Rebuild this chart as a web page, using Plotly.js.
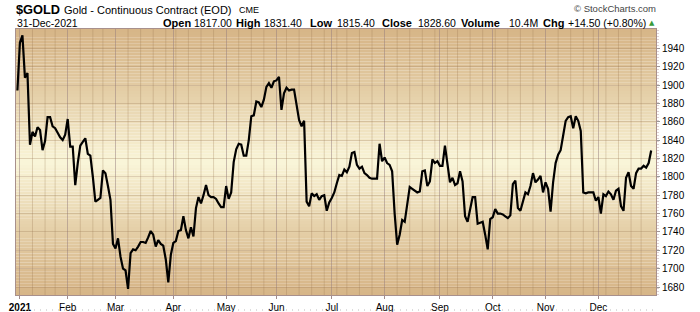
<!DOCTYPE html>
<html>
<head>
<meta charset="utf-8">
<script src="https://cdn.plot.ly/plotly-3.0.1.min.js"></script>
<style>html,body{margin:0;padding:0;background:#fff;}#chart{width:700px;height:312px;}</style>
</head>
<body>
<div id="chart"></div>
<script>
// ---- data ----
const holidays = ["2021-01-01","2021-01-18","2021-02-15","2021-04-02","2021-05-31","2021-07-05","2021-09-06","2021-11-25","2021-12-24"];
const monthLabels = ["<b>2021</b>","Feb","Mar","Apr","May","Jun","Jul","Aug","Sep","Oct","Nov","Dec"];
const priceTicks = [1680,1700,1720,1740,1760,1780,1800,1820,1840,1860,1880,1900,1920,1940];
const statLabels = ["Open","High","Low","Close","Volume","Chg"];
const statValues = ["1817.00","1831.40","1815.40","1828.60","10.4M","+14.50 (+0.80%)"];
const closes = [
1894,1946,1954,1908,1913,1835,1849,1844,1854,1851,1829,1839,1865,1865,1855,1853,1848,1843,1840,1846,
1863,1833,1833,1791,1815,1834,1838,1842,1825,1823,1800,1773,1775,1777,1807,1804,1790,1775,1727,
1722,1733,1713,1700,1698,1678,1717,1721,1720,1724,1729,1729,1728,1734,1741,1737,1724,1731,1727,1725,1710,1685,1715,
1728,1730,1741,1742,1757,1742,1733,1745,1735,1766,1778,1771,1780,1791,1780,1778,1778,1776,1771,1767,1767,
1790,1776,1783,1816,1830,1836,1835,1823,1823,1840,1866,1867,1882,1881,1876,1884,1898,1902,1897,1904,
1905,1909,1873,1891,1897,1894,1895,1895,1878,1862,1855,1861,1773,1768,1782,1779,1781,1775,1779,1780,1763,1772,
1777,1783,1793,1802,1801,1808,1805,1811,1826,1827,1813,1809,1811,1804,1802,1799,1798,1798,1798,1836,1817,
1821,1815,1813,1806,1760,1726,1737,1753,1751,1773,1789,1787,1785,1783,1784,1806,1807,1790,1795,1819,1815,1817,
1812,1812,1834,1816,1794,1799,1791,1793,1806,1795,1757,1751,1765,1778,1778,1749,1750,1751,1737,1721,1754,
1756,1765,1760,1760,1759,1757,1755,1758,1792,1796,1766,1763,1772,1783,1781,1790,1804,1794,1797,1801,1783,
1794,1787,1762,1794,1815,1824,1829,1845,1861,1865,1866,1853,1866,1861,1850,1783,1782,1783,1783,1783,1774,
1778,1760,1781,1779,1784,1781,1775,1785,1787,1768,1763,1799,1805,1790,1787,1804,1809,1809,1812,1810,1815,1828.6
];

// trading dates: weekdays from 2020-12-31 to 2021-12-31, minus exchange holidays
const dates = [];
for (let t = Date.UTC(2020,11,31); t <= Date.UTC(2021,11,31); t += 86400000) {
  const d = new Date(t), wd = d.getUTCDay();
  const s = d.toISOString().slice(0,10);
  if (wd !== 0 && wd !== 6 && holidays.indexOf(s) < 0) dates.push(s);
}
const idx = dates.map((d,i)=>i);

// month starts (first trading day of each month of 2021) and week starts
const monthIdx = [], weekIdx = [];
for (let i = 1; i < dates.length; i++) {
  if (dates[i].slice(0,7) !== dates[i-1].slice(0,7)) monthIdx.push(i);
  const gap = (Date.parse(dates[i]) - Date.parse(dates[i-1]))/86400000;
  const wdPrev = new Date(dates[i-1]).getUTCDay(), wdCur = new Date(dates[i]).getUTCDay();
  if (wdCur <= wdPrev || gap >= 7) weekIdx.push(i);
}

// ---- geometry helpers (pixel -> paper) ----
const ML = 16, MR = 44, MT = 29, MB = 17, W = 700, H = 312;
const pw = W - ML - MR, ph = H - MT - MB;
const px = v => (v - ML) / pw;
const py = v => (H - MB - v) / ph;

// ---- background gradient bands ----
const shapes = [];
const edgeCol = [215,182,136], midCol = [250,246,217];
const N = 90;
for (let k = 0; k < N; k++) {
  const f = (k + 0.5) / N;
  const t = 1 - Math.abs(f - 0.5) * 2;
  const e = Math.pow(t, 1.3);
  const c = edgeCol.map((a,j)=>Math.round(a + (midCol[j]-a)*e));
  shapes.push({type:'rect', xref:'paper', yref:'paper', x0:0, x1:1, y0:k/N, y1:(k+1)/N,
    fillcolor:`rgb(${c[0]},${c[1]},${c[2]})`, line:{width:0}, layer:'below'});
}
// weekly grid lines
weekIdx.forEach(i => {
  if (monthIdx.indexOf(i) >= 0) return;
  shapes.push({type:'line', xref:'x', yref:'paper', x0:i, x1:i, y0:0, y1:1,
    line:{color:'rgba(150,115,80,0.28)', width:1}, layer:'between'});
});
// dotted axis lines
shapes.push({type:'line', xref:'paper', yref:'paper', x0:1+2/pw, x1:1+2/pw, y0:0, y1:1,
  line:{color:'rgba(180,140,140,0.8)', width:1, dash:'1px,2px'}});
shapes.push({type:'line', xref:'paper', yref:'paper', x0:0, x1:1, y0:py(310), y1:py(310),
  line:{color:'#bbbbbb', width:1, dash:'1px,5px'}});

const ann = (text, x, y, size, opts={}) => Object.assign({
  text, xref:'paper', yref:'paper', x:px(x), y:py(y), xanchor:'left', yanchor:'middle',
  showarrow:false, font:{family:'Liberation Sans, Arial, sans-serif', size, color:'#000'}
}, opts);

const annotations = [
  ann('<b>$GOLD</b>', 14, 9.5, 12.8),
  ann('Gold - Continuous Contract (EOD)', 62, 10, 11),
  ann('CME', 237, 10.5, 9),
  ann('31-Dec-2021', 14.5, 22.5, 10.5),
  ann('▲', 657, 22.5, 7, {xanchor:'right', font:{family:'DejaVu Sans', size:7, color:'#3a9a3a'}}),
  ann('© StockCharts.com', 658, 8.5, 9.5, {xanchor:'right', font:{family:'Liberation Sans, Arial', size:9.5, color:'#444'}})
];
// header statistics: label / value pairs
const labelX = [161, 234, 308, 380, 459, 541];
const valueX = [192, 262, 335, 416, 507, 566];
statLabels.forEach((s,k) => {
  annotations.push(ann('<b>' + s + '</b>', labelX[k], 22.5, 11));
  annotations.push(ann(statValues[k], valueX[k], 22.5, 10.5));
});

const trace = {
  x: idx, y: closes, type:'scatter', mode:'lines',
  line:{color:'#000', width:2.2, shape:'linear'}, hoverinfo:'skip'
};

const layout = {
  width: W, height: H,
  margin:{l:ML, r:MR, t:MT, b:MB, pad:0},
  paper_bgcolor:'#fff', plot_bgcolor:'rgba(0,0,0,0)',
  showlegend:false,
  font:{family:'Liberation Sans, Arial, sans-serif', size:10, color:'#000'},
  xaxis:{
    range:[(ML - 17.4) / 2.515, (W - MR - 17.4) / 2.515],
    tickmode:'array', tickvals: monthIdx, ticktext: monthLabels,
    ticks:'outside', ticklen:3, tickcolor:'#a08c8c', tickwidth:1,
    showgrid:true, gridcolor:'rgba(150,125,125,0.5)', gridwidth:1,
    showline:true, linecolor:'#a8908c', linewidth:1, mirror:true,
    zeroline:false, tickfont:{size:10, color:'#000'}, fixedrange:true
  },
  yaxis:{
    side:'right', range:[1671.3, 1961], tickmode:'array', tickvals: priceTicks,
    ticktext: priceTicks.map(String),
    ticks:'outside', ticklen:3, tickcolor:'#999', tickwidth:1,
    showgrid:true, gridcolor:'rgba(150,115,80,0.28)', gridwidth:1,
    showline:true, linecolor:'#a8908c', linewidth:1, mirror:true,
    zeroline:false, tickfont:{size:10, color:'#000'}, fixedrange:true
  },
  shapes, annotations
};

Plotly.newPlot('chart', [trace], layout, {staticPlot:true, displayModeBar:false});
</script>
</body>
</html>
